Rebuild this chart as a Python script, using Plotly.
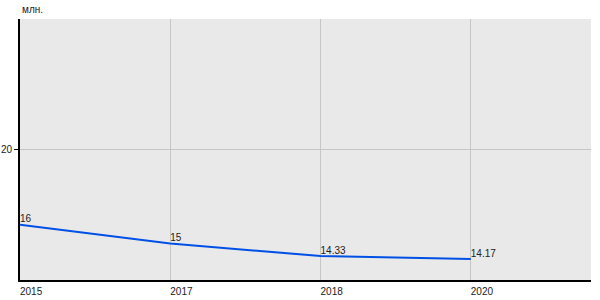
import plotly.graph_objects as go

years = ["2015", "2017", "2018", "2020"]
values = [16, 15, 14.33, 14.17]
labels = ["16", "15", "14.33", "14.17"]
unit_label = "млн."

fig = go.Figure()
fig.add_trace(go.Scatter(
    x=years, y=values, mode="lines+text", text=labels,
    textposition="top right",
    textfont=dict(family="Liberation Sans, Arial", size=10, color="#222"),
    line=dict(color="#0050e6", width=2),
    cliponaxis=False, hoverinfo="skip",
))
fig.update_layout(
    width=600, height=300,
    margin=dict(l=20, r=9, t=19, b=20),
    paper_bgcolor="white", plot_bgcolor="#e9e9e9",
    showlegend=False,
    font=dict(family="Liberation Sans, Arial", size=10, color="#222"),
    xaxis=dict(type="category", range=[0, 3.8], showgrid=True, gridcolor="#c6c6c6",
               gridwidth=1, showline=True, linecolor="black", linewidth=2,
               ticks="", ticklabelposition="outside right", zeroline=False,
               automargin=False, ticklabelshift=-1, ticklabelstandoff=1,
               tickfont=dict(size=10)),
    yaxis=dict(range=[13.05, 27], tickvals=[20], showgrid=True, gridcolor="#c6c6c6",
               showline=True, linecolor="black", linewidth=2, ticks="outside",
               ticklen=4, tickcolor="black", zeroline=False, automargin=False,
               tickfont=dict(size=10)),
    annotations=[dict(text=unit_label, xref="paper", yref="paper", x=0, y=1,
                      xanchor="left", yanchor="bottom", yshift=2, showarrow=False,
                      font=dict(size=10, color="#222"))],
)
fig.write_html("out.html")
